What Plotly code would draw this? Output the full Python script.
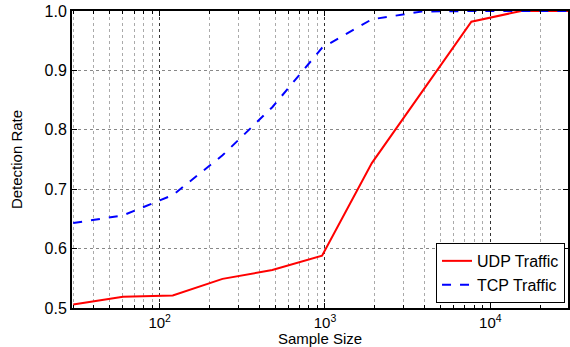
import numpy as np
import plotly.graph_objects as go

sample_size = [30, 60, 120, 240, 480, 960, 1920, 3840, 7680, 15360, 30720]
udp_rate = [0.506, 0.519, 0.521, 0.549, 0.564, 0.588, 0.744, 0.863, 0.982, 1.0, 1.0]
tcp_rate = [0.643, 0.656, 0.690, 0.757, 0.838, 0.938, 0.986, 0.999, 1.0, 1.0, 1.0]

x_tickvals = [100, 1000, 10000]
x_ticktext = ["10<sup>2</sup>", "10<sup>3</sup>", "10<sup>4</sup>"]
y_tickvals = [0.5, 0.6, 0.7, 0.8, 0.9, 1.0]
y_ticktext = ["0.5", "0.6", "0.7", "0.8", "0.9", "1.0"]

fig = go.Figure()
fig.add_trace(go.Scatter(x=sample_size, y=udp_rate, mode="lines", name="UDP Traffic",
                         line=dict(color="#ff0000", width=2)))
fig.add_trace(go.Scatter(x=sample_size, y=tcp_rate, mode="lines", name="TCP Traffic",
                         line=dict(color="#0000ff", width=2, dash="dash")))

fig.update_layout(
    width=570, height=347,
    margin=dict(l=72, r=0, t=11, b=39),
    paper_bgcolor="white", plot_bgcolor="white",
    font=dict(family="Liberation Sans, Arial, sans-serif", color="black", size=16),
    showlegend=True,
    legend=dict(x=0.994, y=0.017, xanchor="right", yanchor="bottom",
                bordercolor="black", borderwidth=1, bgcolor="white",
                font=dict(size=16), tracegroupgap=0, itemwidth=30),
    xaxis=dict(
        type="log", range=[np.log10(29.5), np.log10(29500)],
        tickvals=x_tickvals, ticktext=x_ticktext, tickfont=dict(size=15),
        showline=True, linecolor="black", linewidth=2, mirror="ticks",
        ticks="inside", ticklen=5, tickcolor="black",
        showgrid=True, gridcolor="#333333", griddash="dot", gridwidth=1,
        minor=dict(dtick="D1", showgrid=True, gridcolor="#aaaaaa", griddash="dot",
                   gridwidth=1, ticks="inside", ticklen=3, tickcolor="black"),
        title=dict(text="Sample Size", font=dict(size=15), standoff=2),
        zeroline=False,
    ),
    yaxis=dict(
        range=[0.5, 1.0], tickvals=y_tickvals, ticktext=y_ticktext,
        showline=True, linecolor="black", linewidth=2, mirror="ticks",
        ticks="inside", ticklen=5, tickcolor="black",
        showgrid=True, gridcolor="#888888", griddash="dot", gridwidth=1,
        title=dict(text="Detection Rate", font=dict(size=15), standoff=18),
        zeroline=False,
    ),
)

fig.write_html("out.html", config={"displayModeBar": False},
               post_script="document.body.style.margin='0';")
